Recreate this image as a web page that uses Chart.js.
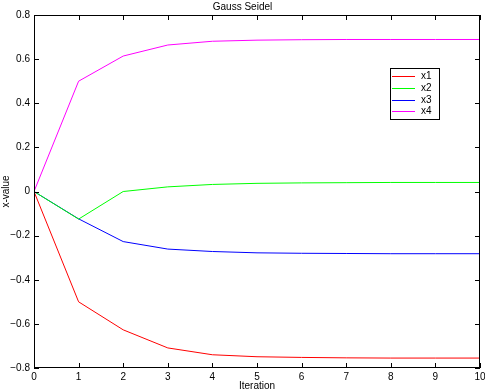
<!DOCTYPE html>
<html><head><meta charset="utf-8">
<script src="https://cdn.jsdelivr.net/npm/chart.js@4/dist/chart.umd.min.js"></script>
<style>html,body{margin:0;padding:0;background:#fff}#wrap{width:485px;height:392px}</style>
</head><body><div id="wrap"><canvas id="c" width="485" height="392"></canvas></div>
<script>
const iterations = [0,1,2,3,4,5,6,7,8,9,10];
const x1 = [0,-0.500,-0.627,-0.709,-0.740,-0.749,-0.752,-0.754,-0.755,-0.755,-0.755];
const x2 = [0,-0.125,0.000,0.021,0.032,0.037,0.039,0.040,0.041,0.041,0.041];
const x3 = [0,-0.124,-0.227,-0.261,-0.272,-0.278,-0.280,-0.281,-0.282,-0.282,-0.282];
const x4 = [0,0.500,0.614,0.664,0.681,0.686,0.688,0.689,0.689,0.689,0.689];
const seriesNames = ['x1','x2','x3','x4'];
const seriesColors = ['#ff0000','#00ff00','#0000ff','#ff00ff'];
const yTicks = [-0.8,-0.6,-0.4,-0.2,0,0.2,0.4,0.6,0.8];

const FONT = 'Liberation Sans, Arial, Helvetica, sans-serif';
const toPts = arr => arr.map((v,i)=>({x:iterations[i], y:v}));
const datasets = [x1,x2,x3,x4].map((d,i)=>({
  label: seriesNames[i], data: toPts(d), borderColor: seriesColors[i],
  backgroundColor: seriesColors[i], borderWidth: 1, pointRadius: 0, tension: 0, fill:false
}));

const frame = {
  id:'frame',
  afterDatasetsDraw(chart){
    const {ctx, chartArea:a, scales} = chart;
    ctx.save();
    ctx.strokeStyle='#000'; ctx.lineWidth=1;
    ctx.strokeRect(Math.round(a.left)+0.5, Math.round(a.top)+0.5, Math.round(a.right-a.left)-1, Math.round(a.bottom-a.top)-1);
    const L=5;
    ctx.beginPath();
    scales.x.ticks.forEach(t=>{
      const px=Math.round(scales.x.getPixelForValue(t.value))+0.5;
      ctx.moveTo(px,a.bottom); ctx.lineTo(px,a.bottom-L);
      ctx.moveTo(px,a.top); ctx.lineTo(px,a.top+L);
    });
    scales.y.ticks.forEach(t=>{
      const py=Math.round(scales.y.getPixelForValue(t.value))+0.5;
      ctx.moveTo(a.left,py); ctx.lineTo(a.left+L,py);
      ctx.moveTo(a.right,py); ctx.lineTo(a.right-L,py);
    });
    ctx.stroke();
    // legend
    const bx=390.5, by=68.5, bw=49, bh=51;
    ctx.fillStyle='#fff'; ctx.fillRect(bx,by,bw,bh);
    ctx.strokeRect(bx,by,bw,bh);
    ctx.font='10px '+FONT; ctx.textBaseline='middle'; ctx.textAlign='left';
    chart.data.datasets.forEach((ds,i)=>{
      const y=Math.round(76+i*11.8)+0.5;
      ctx.strokeStyle=ds.borderColor; ctx.beginPath(); ctx.moveTo(392,y); ctx.lineTo(415,y); ctx.stroke();
      ctx.fillStyle='#000'; ctx.fillText(ds.label, 421, y);
    });
    ctx.restore();
  }
};

new Chart(document.getElementById('c'), {
  type:'line',
  data:{datasets},
  plugins:[frame],
  options:{
    responsive:false, animation:false, devicePixelRatio:1,
    layout:{padding:{left:0,right:0,top:0,bottom:0}},
    plugins:{
      legend:{display:false}, tooltip:{enabled:false},
      title:{display:true, text:'Gauss Seidel', color:'#000', font:{family:FONT,size:10,weight:'normal'}, padding:{top:1,bottom:2}}
    },
    scales:{
      x:{type:'linear', min:0, max:10,
        afterFit(s){ s.height=24; s.paddingRight=5; s.paddingLeft=0; },
        ticks:{stepSize:1, color:'#000', font:{family:FONT,size:10}, padding:3, maxRotation:0},
        grid:{display:false, drawTicks:false}, border:{display:false},
        title:{display:true, text:'Iteration', color:'#000', font:{family:FONT,size:10}, padding:{top:0,bottom:0}}
      },
      y:{type:'linear', min:-0.8, max:0.8,
        afterFit(s){ s.width=34; },
        afterBuildTicks(s){ s.ticks = yTicks.map(v=>({value:v})); },
        ticks:{color:'#000', font:{family:FONT,size:10}, padding:4,
          callback:v=>{ const r=Math.round(v*10)/10; return r===0?'0':(r<0?'\u2212'+Math.abs(r).toFixed(1):r.toFixed(1)); }},
        grid:{display:false, drawTicks:false}, border:{display:false},
        title:{display:true, text:'x-value', color:'#000', font:{family:FONT,size:10}, padding:{top:0,bottom:0}}
      }
    }
  }
});
</script></body></html>
